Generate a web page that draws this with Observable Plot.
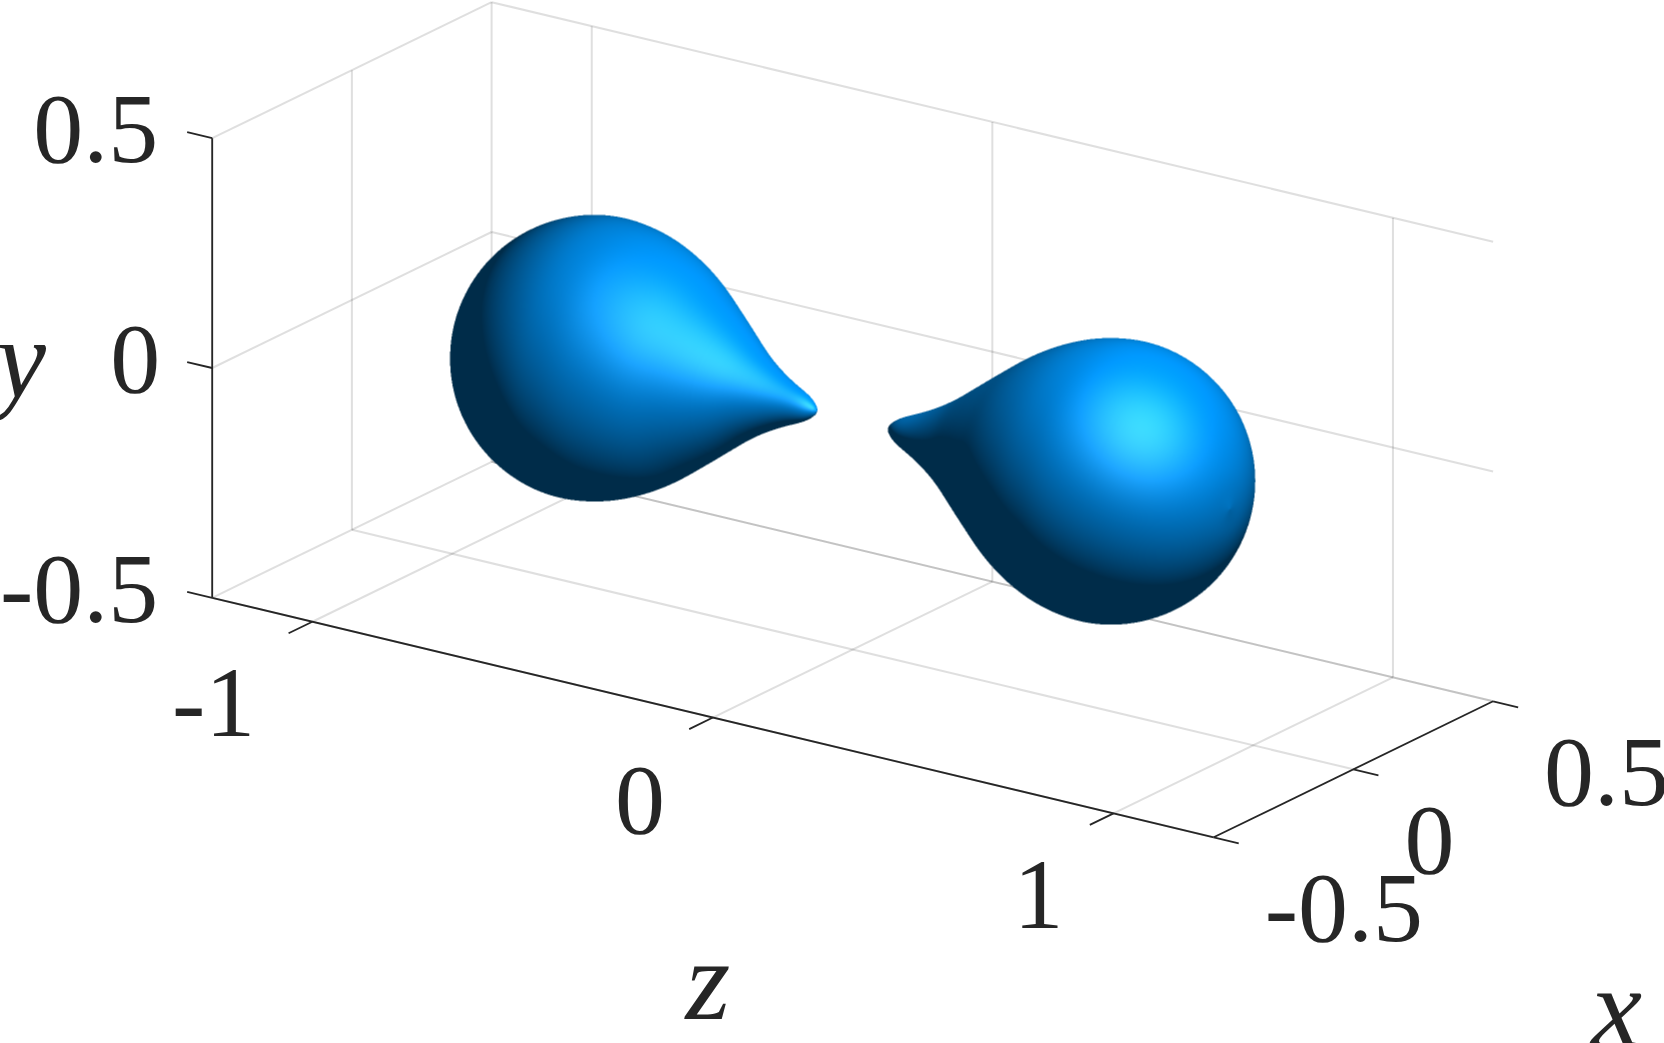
<!DOCTYPE html>
<html>
<head>
<meta charset="utf-8">
<style>html,body{margin:0;padding:0;background:#fff;overflow:hidden}svg{display:block}</style>
<script src="https://cdn.jsdelivr.net/npm/d3@7"></script>
<script src="https://cdn.jsdelivr.net/npm/@observablehq/plot@0.6"></script>
</head>
<body>
<script>
// axis ticks (data units)
const xTicks = [-0.5, 0, 0.5];
const yTicks = [-0.5, 0, 0.5];
const zTicks = [-1, 0, 1];
const xLimits = [-0.5, 0.5];
const yLimits = [-0.5, 0.5];
const zLimits = [-1.25, 1.25];
const xTickLabels = ["-0.5", "0", "0.5"];
const yTickLabels = ["-0.5", "0", "0.5"];
const zTickLabels = ["-1", "0", "1"];
// drop profile: distance |z| from the mid plane and radius r around the z axis
const profileZ = [0.090,0.091,0.094,0.100,0.112,0.130,0.155,0.185,0.220,0.260,0.300,0.345,0.390,0.435,0.480,0.525,0.565,0.605,0.647,0.690,0.735,0.780,0.820,0.855,0.885,0.910,0.928,0.938,0.942];
const profileR = [0.000,0.004,0.009,0.015,0.024,0.033,0.043,0.056,0.074,0.098,0.127,0.160,0.192,0.224,0.250,0.270,0.283,0.291,0.295,0.292,0.2816,0.2633,0.2389,0.2092,0.1743,0.1336,0.0898,0.0484,0.000];

// orthographic view (screen pixels per data unit)
const view = {cx:852.15, cy:419.25, zx:400.6, zy:95.8, xx:279.4, xy:-136, yy:-459.6};
const px = (x,y,z) => view.cx + z*view.zx + x*view.xx;
const py = (x,y,z) => view.cy + z*view.zy + x*view.xy + y*view.yy;
const S = Math.hypot(view.zx, view.xx);
const R = [view.xx/S, 0, view.zx/S];
const U = [-view.xy/S, -view.yy/S, -view.zy/S];
const V = [R[1]*U[2]-R[2]*U[1], R[2]*U[0]-R[0]*U[2], R[0]*U[1]-R[1]*U[0]];

// lookup of the profile
const fz = d3.interpolateBasis(profileZ), fr = d3.interpolateBasis(profileR);
const zMin = profileZ[0], zMax = profileZ[profileZ.length-1], N = 2000, dz = (zMax-zMin)/N;
const lutR = new Float64Array(N+1), lutD = new Float64Array(N+1);
{
  let u = 0;
  for (let i=0;i<=N;i++){
    const z = zMin+i*dz;
    while (u<1 && fz(u)<z) u+=0.00005;
    lutR[i] = Math.max(0, fr(Math.min(u,1)));
  }
  lutR[0]=0; lutR[N]=0;
  for (let i=0;i<=N;i++){
    const a=Math.max(0,i-6), b=Math.min(N,i+6);
    lutD[i]=(lutR[b]-lutR[a])/((b-a)*dz);
  }
}
const rMax = d3.max(lutR)+0.002;
const radius = az => { if (az<zMin||az>zMax) return -1; return lutR[Math.round((az-zMin)/dz)]; };

// lighting (local light in view coordinates)
const lightView = [1.45, 1.5, 2.3];
const base = [0, 0.57, 0.95];
const ka = 0.3, kd = 0.84, ks = 0.24, shin = 3, gam = 0.9;
const light = [0,1,2].map(i => lightView[0]*R[i]+lightView[1]*U[i]+lightView[2]*V[i]);

function shade(sx, sy){
  const a=(sx-view.cx)/S, b=(view.cy-sy)/S;
  const ox=a*R[0]+b*U[0], oy=a*R[1]+b*U[1], oz=a*R[2]+b*U[2];
  const A=V[0]*V[0]+V[1]*V[1], B=ox*V[0]+oy*V[1], C=ox*ox+oy*oy-rMax*rMax;
  const disc=B*B-A*C; if (disc<=0) return null;
  const sq=Math.sqrt(disc), t1=(-B+sq)/A, t0=(-B-sq)/A;
  const f=t=>{const x=ox+t*V[0],y=oy+t*V[1],z=oz+t*V[2];const r=radius(Math.abs(z));return r<0?1:Math.hypot(x,y)-r;};
  const step=0.003; let hi=t1, lo=null;
  for (let t=t1;t>=t0;t-=step){ if (f(t)<0){lo=t;hi=t+step;break;} }
  if (lo===null) return null;
  for (let i=0;i<12;i++){const m=(lo+hi)/2; if (f(m)<0) lo=m; else hi=m;}
  const t=(lo+hi)/2, x=ox+t*V[0], y=oy+t*V[1], z=oz+t*V[2], rho=Math.hypot(x,y)||1e-6;
  const az=Math.abs(z), i=Math.max(0,Math.min(N,Math.round((az-zMin)/dz)));
  let nx=x/rho, ny=y/rho, nz=-lutD[i]*Math.sign(z);
  const nl=Math.hypot(nx,ny,nz); nx/=nl; ny/=nl; nz/=nl;
  let lx=light[0]-x, ly=light[1]-y, lz=light[2]-z; const ll=Math.hypot(lx,ly,lz); lx/=ll; ly/=ll; lz/=ll;
  const d=Math.max(0,nx*lx+ny*ly+nz*lz);
  let s=0;
  if (d>0){
    const k=2*d, rx=k*nx-lx, ry=k*ny-ly, rz=k*nz-lz;
    s=Math.pow(Math.max(0,rx*V[0]+ry*V[1]+rz*V[2]),shin);
  }
  const c=base.map(v=>Math.min(255,Math.round(255*((ka+kd*Math.pow(d,gam))*v+ks*s))));
  return `rgb(${c[0]},${c[1]},${c[2]})`;
}

// grid and axis segments in data space
const seg = (a,b) => ({x1:px(...a),y1:py(...a),x2:px(...b),y2:py(...b)});
const [x0,x1]=xLimits,[y0,y1]=yLimits,[z0,z1]=zLimits;
const grid = [
  ...xTicks.map(x=>seg([x,y0,z0],[x,y0,z1])),
  ...zTicks.map(z=>seg([x0,y0,z],[x1,y0,z])),
  ...yTicks.map(y=>seg([x1,y,z0],[x1,y,z1])),
  ...zTicks.map(z=>seg([x1,y0,z],[x1,y1,z])),
  ...yTicks.map(y=>seg([x0,y,z0],[x1,y,z0])),
  ...xTicks.map(x=>seg([x,y0,z0],[x,y1,z0]))
];
const tickLen = 0.0625;
const axes = [
  seg([x0,y0,z0],[x0,y1,z0]),
  seg([x0,y0,z0],[x0,y0,z1]),
  seg([x0,y0,z1],[x1,y0,z1]),
  ...yTicks.map(y=>seg([x0,y,z0],[x0,y,z0-tickLen])),
  ...zTicks.map(z=>seg([x0,y0,z],[x0-0.085,y0,z])),
  ...xTicks.map(x=>seg([x,y0,z1],[x,y0,z1+tickLen]))
];

const font = {fontFamily:"'Liberation Serif', serif", fill:"#262626", stroke:"none"};
const label = (text,p,dx,dy,anchor,size=100,style="normal") => Plot.text([text],{
  x:px(...p), y:py(...p), text:d=>d, dx, dy, textAnchor:anchor, lineAnchor:"middle",
  fontSize:size, fontStyle:style, ...font});

const chart = Plot.plot({
  width:1664, height:1043, margin:0,
  x:{domain:[0,1664],range:[0,1664],axis:null},
  y:{domain:[0,1043],range:[0,1043],axis:null},
  color:{type:"identity"},
  style:{background:"#fff"},
  marks:[
    Plot.link(grid,{x1:"x1",y1:"y1",x2:"x2",y2:"y2",stroke:"#262626",strokeOpacity:0.15,strokeWidth:2}),
    Plot.raster({x1:440,x2:1265,y1:205,y2:630,pixelSize:0.5,fill:shade}),
    Plot.link(axes,{x1:"x1",y1:"y1",x2:"x2",y2:"y2",stroke:"#262626",strokeWidth:1.8}),
    label(yTickLabels[0],[x0,yTicks[0],z0],-54,-8,"end"),
    label(yTickLabels[1],[x0,yTicks[1],z0],-52,-8,"end"),
    label(yTickLabels[2],[x0,yTicks[2],z0],-54,-8,"end"),
    label(zTickLabels[0],[x0,y0,zTicks[0]],-57,82,"end"),
    label(zTickLabels[1],[x0,y0,zTicks[1]],-48,83,"end"),
    label(zTickLabels[2],[x0,y0,zTicks[2]],-50,83,"end"),
    ...xTicks.map((x,i)=>label(xTickLabels[i],[x,y0,z1],51,72,"start")),
    label("y",[x0,0,z0],-191,-7,"middle",112,"italic"),
    label("z",[x0,y0,0],-5,265,"middle",115,"italic"),
    label("x",[0,y0,z1],263,240,"middle",115,"italic")
  ]
});
document.body.appendChild(chart);
</script>
</body>
</html>
